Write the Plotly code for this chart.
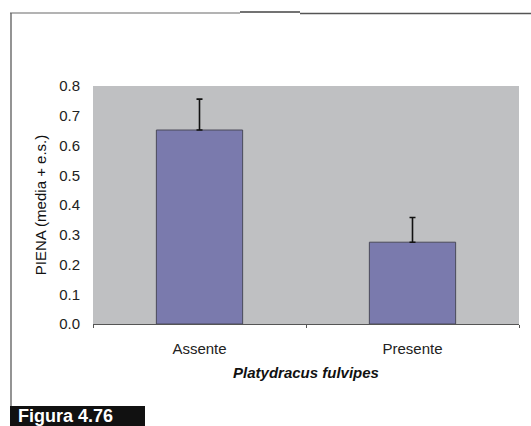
import plotly.graph_objects as go

# Mean PIENA by presence of Platydracus fulvipes, with standard error
categories = ["Assente", "Presente"]
means = [0.652, 0.275]
std_errors = [0.104, 0.083]
y_ticks = [0.0, 0.1, 0.2, 0.3, 0.4, 0.5, 0.6, 0.7, 0.8]

FONT = "Liberation Sans, Arial, sans-serif"
L, R, T, B = 93, 12, 86, 102
W, H = 531, 426

fig = go.Figure()
fig.add_trace(go.Bar(
    x=categories,
    y=means,
    marker=dict(color="#7a7aad", line=dict(color="#4a4a5a", width=1)),
    error_y=dict(type="data", array=std_errors, arrayminus=[0, 0],
                 symmetric=False, color="#111111", thickness=1.6, width=3),
    width=0.405,
))

axis_font = dict(family=FONT, size=15, color="#222222")

fig.update_layout(
    width=W, height=H,
    margin=dict(l=L, r=R, t=T, b=B),
    paper_bgcolor="white",
    plot_bgcolor="#bfc0c2",
    showlegend=False,
    xaxis=dict(
        type="category",
        tickson="boundaries",
        ticks="outside", ticklen=3, tickcolor="#555555",
        showline=True, linecolor="#555555", linewidth=1,
        showgrid=False,
        tickfont=axis_font,
        ticklabelstandoff=11,
        title=dict(text="<b><i>Platydracus fulvipes</i></b>",
                   font=dict(family=FONT, size=15, color="#111111"),
                   standoff=11),
    ),
    yaxis=dict(
        range=[0, 0.8],
        tickvals=y_ticks,
        ticktext=[f"{v:.1f}" for v in y_ticks],
        showgrid=False, zeroline=False,
        showline=False,
        ticks="",
        tickfont=axis_font,
        ticklabelstandoff=12,
        title=dict(text="PIENA (media + e.s.)",
                   font=dict(family=FONT, size=15, color="#111111"),
                   standoff=8),
    ),
)

# Pixel -> paper coordinate helpers for the page decoration
def px_x(px):
    return (px - L) / (W - L - R)

def px_y(py):
    return (H - B - py) / (H - B - T)

# Page frame: top and left rules
fig.add_shape(type="line", xref="paper", yref="paper",
              x0=px_x(10), x1=px_x(240), y0=px_y(13), y1=px_y(13),
              line=dict(color="#9a9a9a", width=1.3))
fig.add_shape(type="line", xref="paper", yref="paper",
              x0=px_x(240), x1=px_x(300), y0=px_y(12), y1=px_y(12),
              line=dict(color="#444444", width=1.3))
fig.add_shape(type="line", xref="paper", yref="paper",
              x0=px_x(300), x1=px_x(531), y0=px_y(13.5), y1=px_y(13.5),
              line=dict(color="#555555", width=1.5))
fig.add_shape(type="line", xref="paper", yref="paper",
              x0=px_x(11), x1=px_x(11), y0=px_y(13), y1=px_y(407),
              line=dict(color="#666666", width=1.4))

# Figure label box
fig.add_shape(type="rect", xref="paper", yref="paper",
              x0=px_x(10), x1=px_x(145), y0=px_y(406), y1=px_y(427),
              fillcolor="#111111", line=dict(width=0))
fig.add_annotation(xref="paper", yref="paper",
                   x=px_x(16), y=px_y(415.5), xanchor="left", yanchor="middle",
                   text="<b>Figura 4.76</b>", showarrow=False,
                   font=dict(family=FONT, size=18, color="white"))

fig.write_html("out.html")
